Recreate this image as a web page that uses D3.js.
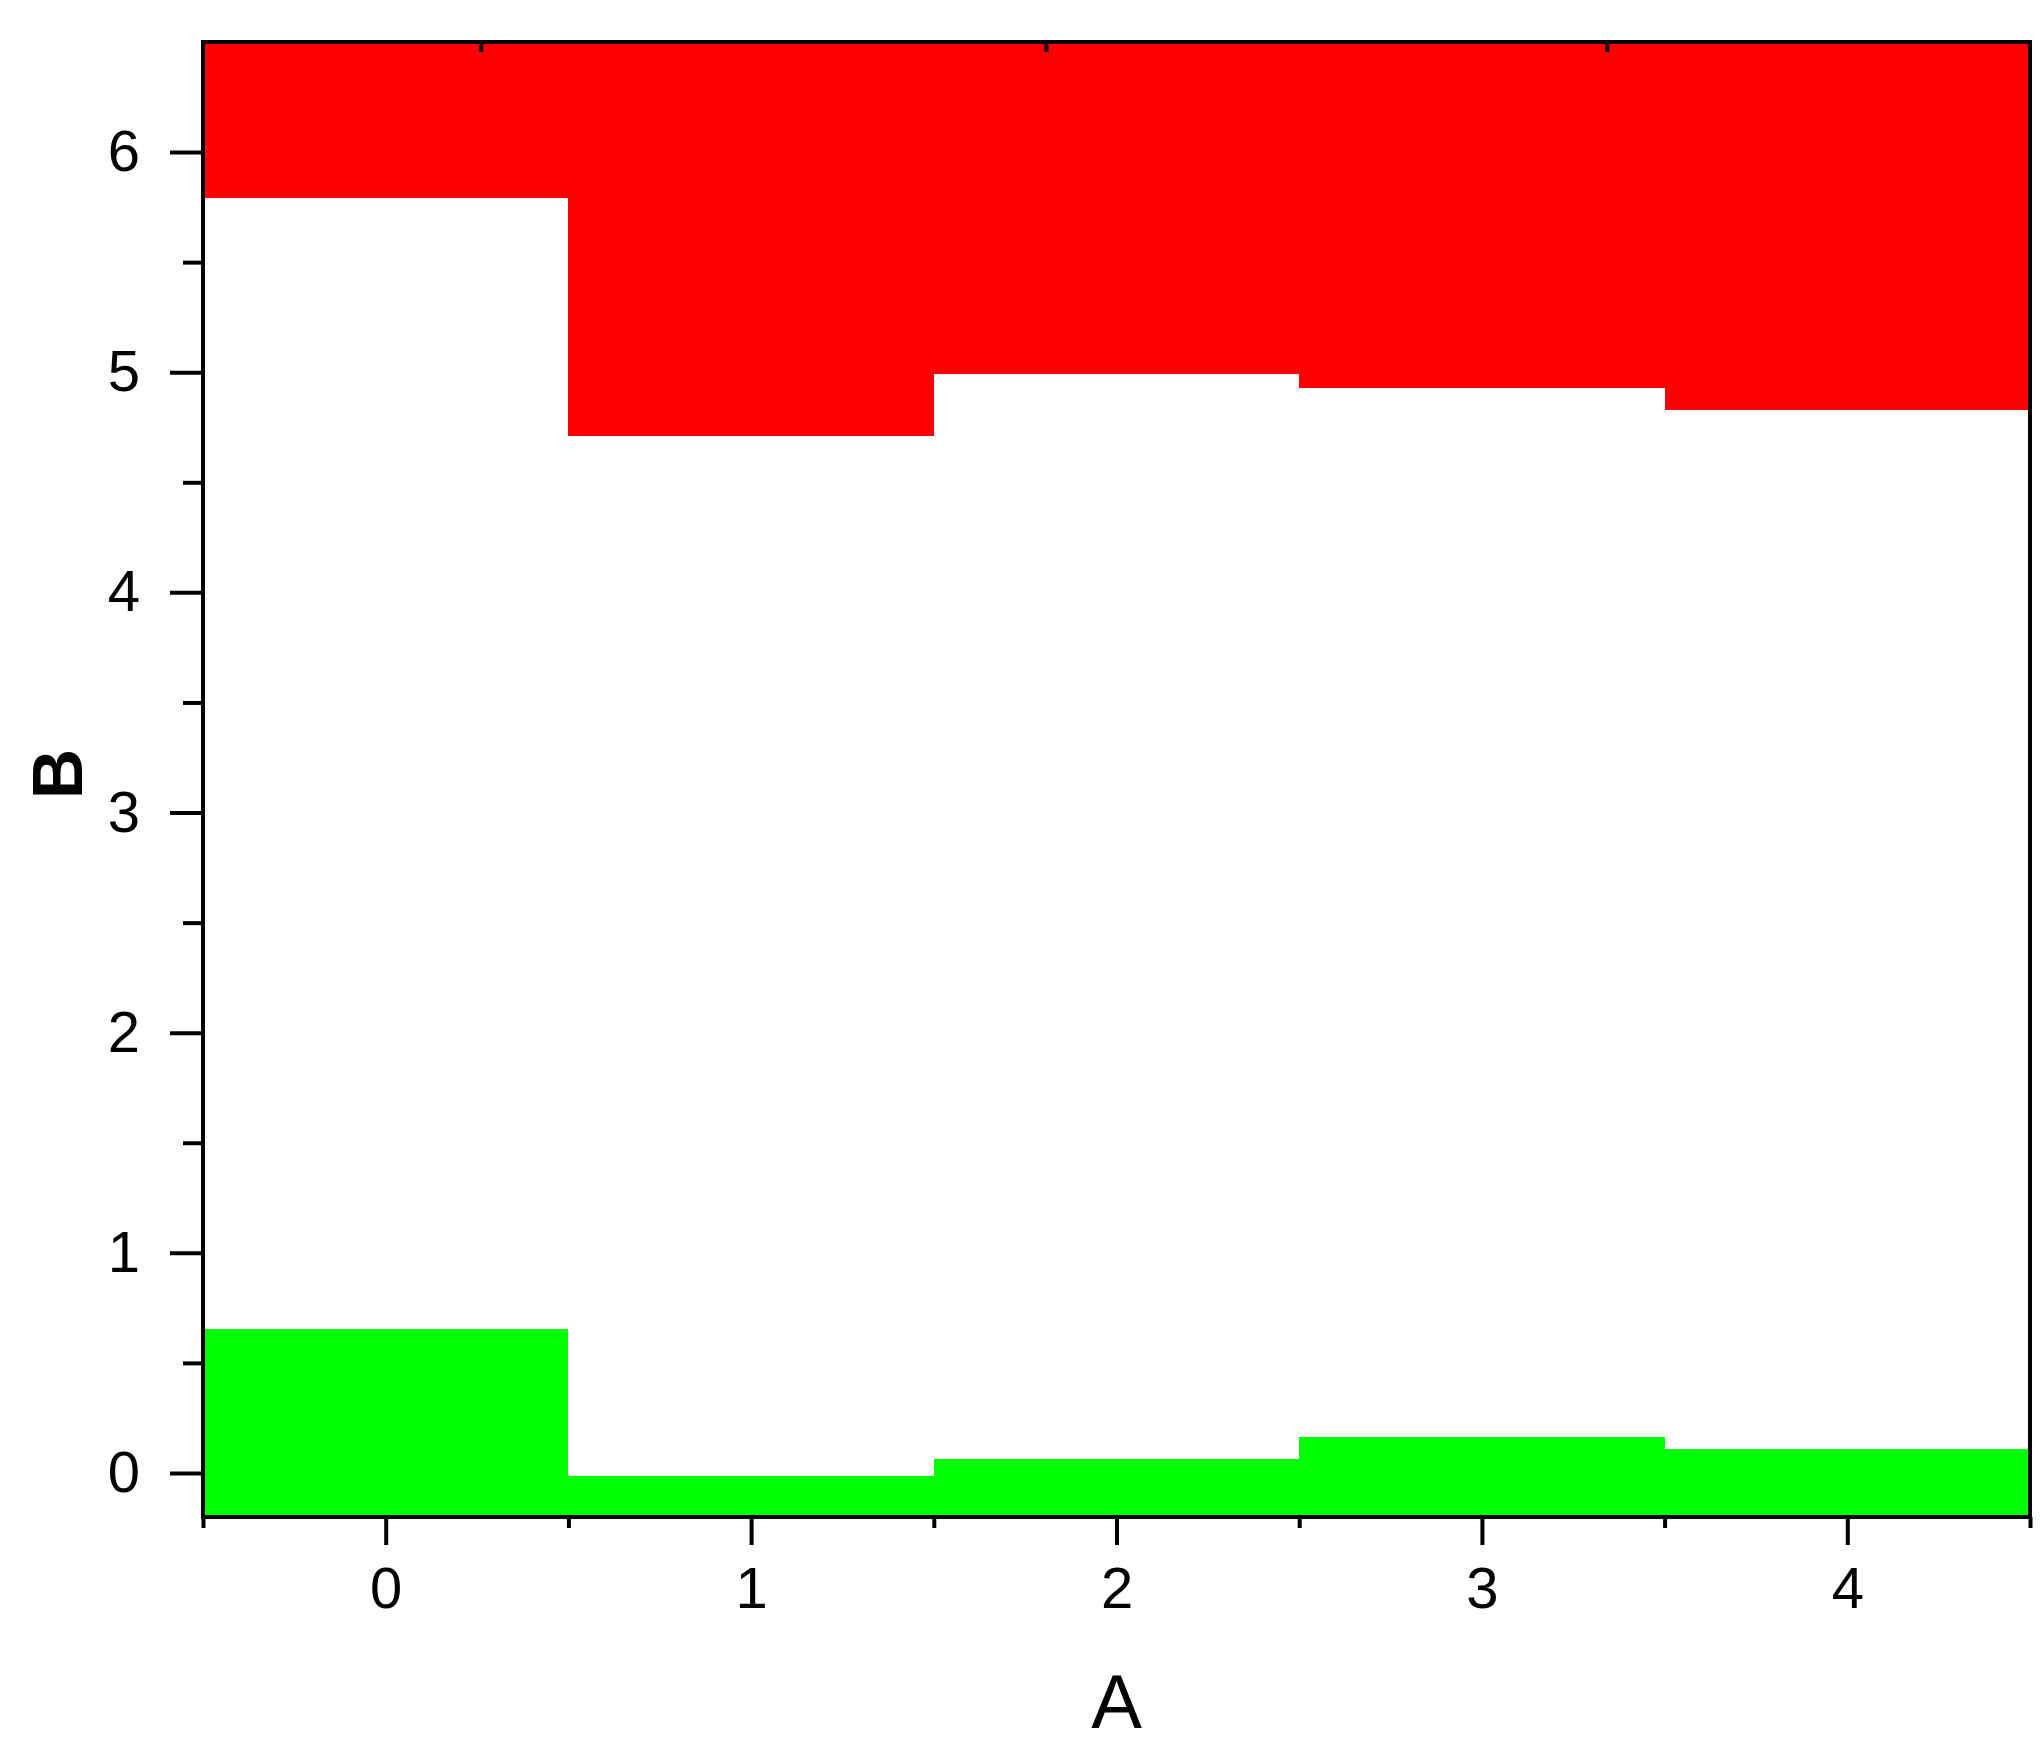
<!DOCTYPE html>
<html>
<head>
<meta charset="utf-8">
<script src="https://cdn.jsdelivr.net/npm/d3@7"></script>
<style>
  body { margin: 0; background: #fff; }
  text { font-family: "Liberation Sans", Arial, sans-serif; fill: #000; }
</style>
</head>
<body>
<div id="chart"></div>
<script>
// categories on the A axis
const categories = [0, 1, 2, 3, 4];
// lower edge of the red band, per category
const redLower = [5.79, 4.71, 4.99, 4.93, 4.83];
// upper edge of the green band, per category
const greenUpper = [0.655, -0.015, 0.065, 0.165, 0.11];
// tick labels
const xTicks = [0, 1, 2, 3, 4];
const xMinorTicks = [-0.5, 0.5, 1.5, 2.5, 3.5, 4.5];
const yTicks = [0, 1, 2, 3, 4, 5, 6];
const yMinorTicks = [0.5, 1.5, 2.5, 3.5, 4.5, 5.5];
// small inward ticks on the top frame
const topTicks = [0.26, 1.807, 3.342];

const margin = {top: 42, right: 10, bottom: 246, left: 203},
      width = 2040 - margin.left - margin.right,
      height = 1763 - margin.top - margin.bottom;

const svg = d3.select("#chart")
  .append("svg")
    .attr("width", width + margin.left + margin.right)
    .attr("height", height + margin.top + margin.bottom)
  .append("g")
    .attr("transform", `translate(${margin.left},${margin.top})`);

const x = d3.scaleLinear().domain([-0.5, 4.5]).range([0, width]);
const y = d3.scaleLinear().domain([-0.2, 6.5]).range([height, 0]);

// red bands hanging from the top
svg.selectAll(".red")
  .data(categories)
  .enter()
  .append("rect")
    .attr("class", "red")
    .attr("x", d => x(d - 0.5))
    .attr("y", y(6.5))
    .attr("width", d => x(d + 0.5) - x(d - 0.5))
    .attr("height", (d, i) => y(redLower[i]) - y(6.5))
    .attr("fill", "#ff0000")
    .attr("shape-rendering", "crispEdges");

// green bands rising from the bottom
svg.selectAll(".green")
  .data(categories)
  .enter()
  .append("rect")
    .attr("class", "green")
    .attr("x", d => x(d - 0.5))
    .attr("y", (d, i) => y(greenUpper[i]))
    .attr("width", d => x(d + 0.5) - x(d - 0.5))
    .attr("height", (d, i) => y(-0.2) - y(greenUpper[i]))
    .attr("fill", "#00ff00")
    .attr("shape-rendering", "crispEdges");

const noLabel = () => "";

function styleAxis(g) {
  g.selectAll("path").remove();
  g.selectAll("line").attr("stroke", "#000").attr("stroke-width", 4);
  g.selectAll("text").style("font-size", "58px");
}

// bottom axis
svg.append("g")
  .attr("transform", `translate(0,${height})`)
  .call(d3.axisBottom(x).tickValues(xMinorTicks).tickSize(11).tickFormat(noLabel))
  .call(styleAxis);
svg.append("g")
  .attr("transform", `translate(0,${height})`)
  .call(d3.axisBottom(x).tickValues(xTicks).tickSize(28).tickPadding(22).tickFormat(d3.format("d")))
  .call(styleAxis);

// left axis
svg.append("g")
  .call(d3.axisLeft(y).tickValues(yMinorTicks).tickSize(20).tickFormat(noLabel))
  .call(styleAxis);
svg.append("g")
  .call(d3.axisLeft(y).tickValues(yTicks).tickSize(33).tickPadding(30).tickFormat(d3.format("d")))
  .call(styleAxis);

// top inward ticks
svg.append("g")
  .call(d3.axisTop(x).tickValues(topTicks).tickSize(-10).tickFormat(noLabel))
  .call(styleAxis);

// frame
svg.append("rect")
  .attr("x", 0).attr("y", 0)
  .attr("width", width).attr("height", height)
  .attr("fill", "none")
  .attr("stroke", "#000")
  .attr("stroke-width", 4);

// X-axis label
svg.append("text")
  .attr("x", x(2))
  .attr("y", 1728 - margin.top)
  .attr("text-anchor", "middle")
  .style("font-size", "76px")
  .text("A");

// Y-axis label
svg.append("text")
  .attr("transform", `translate(${57 - margin.left},${774 - margin.top}) rotate(-90)`)
  .attr("text-anchor", "middle")
  .attr("dy", "0.36em")
  .style("font-size", "70px")
  .style("font-weight", "bold")
  .text("B");
</script>
</body>
</html>
